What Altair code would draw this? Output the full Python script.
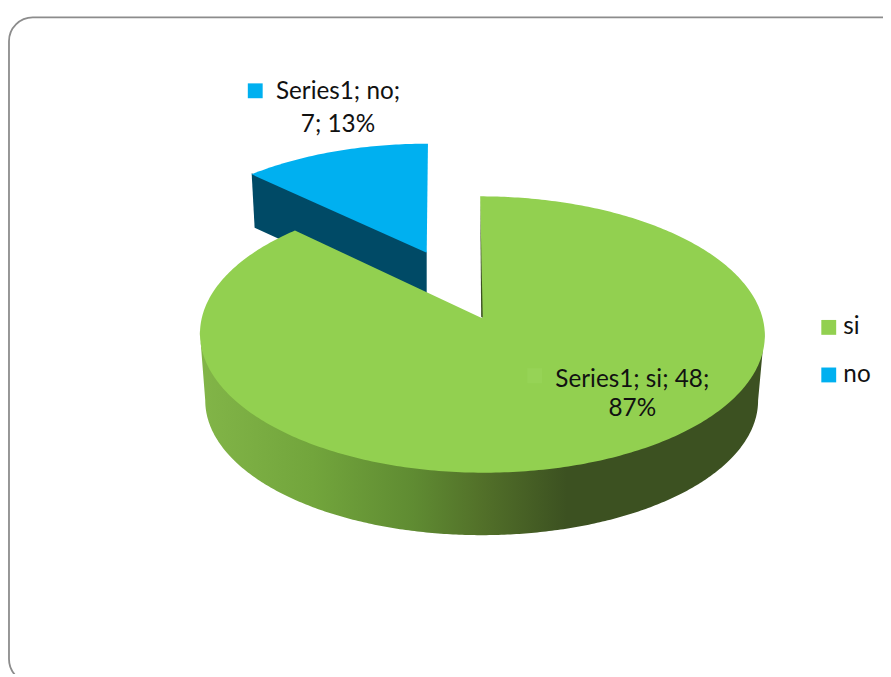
import numpy as np
import pandas as pd
import altair as alt

categories = ["si", "no"]
values = [48, 7]
percents = ["87%", "13%"]
series_name = "Series1"
colors = ["#92D050", "#00B0F0"]
wall_blue = "#004A66"
grad_offsets = [0, 0.2, 0.38, 0.5, 0.65, 1]
grad_colors = ["#82B548", "#72A53C", "#5F8B32", "#527029", "#3C5121", "#3C5121"]

# projection of the tilted disc on the page
K = 0.118
CX, CY, AX, AY = 486.5, 318.0, 283.0, 137.5
CX2, CY2, AX2, AY2 = 486.0, 385.0, 277.0, 134.0
CX_BLUE = 488.0
EXPLODE = 0.553
DEPTH_BLUE = 54.0
WALL_OVERLAP = 4.0


def project(x, y, cx=CX, cy=CY, ax=AX, ay=AY):
    d = 1 + K * y
    return cx + ax * x / d, cy - ay * y / d


sweep = 360.0 * values[1] / sum(values)
rows = []


def add(name, xs, ys):
    for i, (a, b) in enumerate(zip(xs, ys)):
        rows.append({"part": name, "i": i, "px": float(a), "py": float(b)})


# green top
t = np.radians(np.linspace(0, 360 - sweep, 400))
gx, gy = project(np.sin(t), np.cos(t))
gx = gx - 2.0 * np.cos(t)
tipx, tipy = project(0.0, 0.0)
add("green_top", np.r_[gx, tipx], np.r_[gy, tipy])

# green front wall, between the two silhouette points of the disc
# (its upper edge runs slightly under the top so that no seam shows)
edge = np.degrees(np.arccos(-K))
u = np.radians(np.linspace(edge, 360 - edge, 300))
ux, uy = project(np.sin(u), np.cos(u))
lx, ly = project(np.sin(u), np.cos(u), CX2, CY2, AX2, AY2)
add("green_wall", np.r_[ux, lx[::-1]], np.r_[uy - WALL_OVERLAP, ly[::-1]])

# blue exploded slice
mid = np.radians(-sweep / 2)
dx, dy = EXPLODE * np.sin(mid), EXPLODE * np.cos(mid)
t = np.radians(np.linspace(-sweep, 0, 60))
sx = np.sin(t) + dx
sy = np.cos(t) + dy
bx, by = project(sx, sy, CX_BLUE)
bx = bx - 4.5 * (sy - dy)
btx, bty = project(dx, dy, CX_BLUE)
add("blue_top", np.r_[bx, btx], np.r_[by, bty])
add("blue_wall",
    [bx[0], btx, btx, bx[0] + 3],
    [by[0] - 1, bty - 1, bty + DEPTH_BLUE, by[0] + DEPTH_BLUE])

# thin shadow on the cut face of the green slice
add("green_cut", [tipx - 1, tipx - 2, tipx + 0.6], [tipy - 1, tipy - 120, tipy - 1])

shapes = pd.DataFrame(rows)

X = alt.X("px:Q", scale=alt.Scale(domain=[8, 891], range=[0, 883]), axis=None)
Y = alt.Y("py:Q", scale=alt.Scale(domain=[8, 677], range=[0, 669]), axis=None)


def poly(name, fill):
    return (
        alt.Chart(shapes[shapes.part == name])
        .mark_line(fill=fill, strokeWidth=0, strokeOpacity=0, interpolate="linear-closed")
        .encode(x=X, y=Y, order="i:Q")
    )


gradient = alt.Gradient(
    gradient="linear", x1=0, x2=1, y1=0, y2=0,
    stops=[alt.GradientStop(offset=o, color=c) for o, c in zip(grad_offsets, grad_colors)],
)

frame = (
    alt.Chart(pd.DataFrame({"px": [9.0], "px2": [1000.0], "py": [14.5], "py2": [686.0]}))
    .mark_rect(fillOpacity=0, stroke="#8C8C8C", strokeWidth=1.8, cornerRadius=24, clip=True)
    .encode(x=X, x2="px2:Q", y=Y, y2="py2:Q")
)

labels = pd.DataFrame({
    "px": [341, 341, 638, 638],
    "py": [97, 130, 387, 417],
    "txt": [f"{series_name}; {categories[1]};", f"{values[1]}; {percents[1]}",
            f"{series_name}; {categories[0]}; {values[0]};", percents[0]],
})
label_text = (
    alt.Chart(labels)
    .mark_text(font="Lato", fontSize=24.5, color="#111111", baseline="alphabetic", align="center")
    .encode(x=X, y=Y, text="txt:N")
)

keys = pd.DataFrame({"px": [257.5], "py": [88.5], "cat": ["no"]})
key_marks = (
    alt.Chart(keys)
    .mark_square(size=225, opacity=1, strokeWidth=0)
    .encode(
        x=X, y=Y,
        color=alt.Color(
            "cat:N",
            scale=alt.Scale(domain=categories, range=colors),
            legend=alt.Legend(
                orient="none", legendX=816, legendY=307, title=None, symbolType="square",
                symbolSize=225, symbolStrokeWidth=0, labelFont="Lato", labelFontSize=24.5,
                labelColor="#111111", rowPadding=23, labelOffset=2.5, symbolOpacity=1,
            ),
        ),
    )
)
faint_key = (
    alt.Chart(pd.DataFrame({"px": [539.5], "py": [376.0]}))
    .mark_square(size=225, opacity=1, strokeWidth=0, color="#96D356")
    .encode(x=X, y=Y)
)

chart = (
    alt.layer(
        frame,
        poly("blue_wall", wall_blue),
        poly("blue_top", colors[1]),
        poly("green_wall", gradient),
        poly("green_top", colors[0]),
        poly("green_cut", "#3C5121"),
        faint_key,
        key_marks,
        label_text,
    )
    .properties(width=883, height=669, padding=0, autosize=alt.AutoSizeParams(type="none"))
    .configure_view(stroke=None)
)

chart.save("out.html", embed_options={"renderer": "svg", "actions": False})
